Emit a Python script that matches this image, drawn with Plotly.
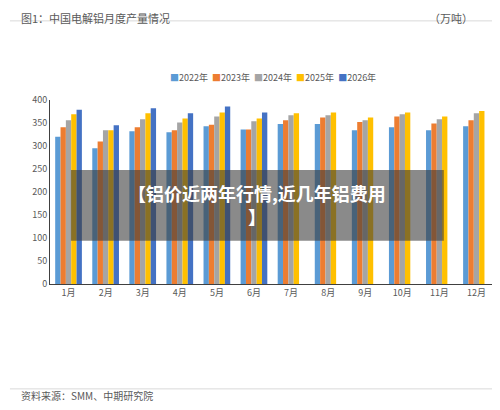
import plotly.graph_objects as go

months = ["1月","2月","3月","4月","5月","6月","7月","8月","9月","10月","11月","12月"]
years = ["2022年","2023年","2024年","2025年","2026年"]
v2022 = [320,295,332,330,343,336,348,348,334,341,334,343]
v2023 = [341,310,341,334,346,336,356,362,352,364,349,356]
v2024 = [356,334,358,351,364,354,367,367,356,369,358,371]
v2025 = [369,334,371,360,373,360,371,373,362,373,364,376]
v2026 = [379,345,382,371,386,373,None,None,None,None,None,None]
colors = ["#5B9BD5","#ED7D31","#A5A5A5","#FFC000","#4472C4"]

fig = go.Figure()
for name, vals, c in zip(years, [v2022,v2023,v2024,v2025,v2026], colors):
    fig.add_bar(x=months, y=vals, name=name, marker_color=c, marker_line_width=0)

legend_html = "  ".join(f"<span style='color:{c}'>■</span>{y}" for y, c in zip(years, colors))

fig.update_layout(
    width=500, height=410, barmode="group", bargap=0.28, bargroupgap=0.0,
    paper_bgcolor="white", plot_bgcolor="white",
    margin=dict(l=42, r=13, t=92, b=134, autoexpand=False),
    font=dict(family="Noto Sans CJK SC", size=9, color="#595959"),
    showlegend=False,
    xaxis=dict(showline=True, linecolor="#404040", ticks="", tickfont=dict(size=9), automargin=False),
    yaxis=dict(range=[0,400], dtick=50, showgrid=False, showline=True, linecolor="#404040",
               ticks="", tickfont=dict(size=9), automargin=False),
)
fig.add_annotation(text=legend_html, xref="paper", yref="paper", x=0.5, y=1.17,
                   xanchor="center", showarrow=False, font=dict(size=9, color="#595959"))
fig.add_annotation(text="图1：中国电解铝月度产量情况", xref="paper", yref="paper", x=-0.07, y=1.5,
                   xanchor="left", showarrow=False, font=dict(size=11, color="#595959"))
fig.add_annotation(text="（万吨）", xref="paper", yref="paper", x=0.9, y=1.5,
                   xanchor="center", showarrow=False, font=dict(size=11, color="#595959"))
fig.add_annotation(text="资料来源：SMM、中期研究院", xref="paper", yref="paper", x=-0.07, y=-0.655,
                   xanchor="left", showarrow=False, font=dict(size=10, color="#595959"))
fig.add_shape(type="line", xref="paper", yref="paper", x0=-0.09, x1=1.02, y0=1.43, y1=1.43,
              line=dict(color="#D9D9D9", width=1))
fig.add_shape(type="line", xref="paper", yref="paper", x0=-0.09, x1=1.02, y0=-0.57, y1=-0.57,
              line=dict(color="#D9D9D9", width=1))
fig.add_shape(type="rect", xref="paper", yref="paper", x0=0.047, x1=0.885, y0=0.235, y1=0.62,
              fillcolor="rgba(60,60,60,0.6)", line_width=0, layer="above")
fig.add_annotation(text="<b>【铝价近两年行情,近几年铝费用<br>】</b>", xref="paper", yref="paper",
                   x=0.466, y=0.43, showarrow=False, font=dict(size=18, color="white"))
fig.write_html("out.html")
